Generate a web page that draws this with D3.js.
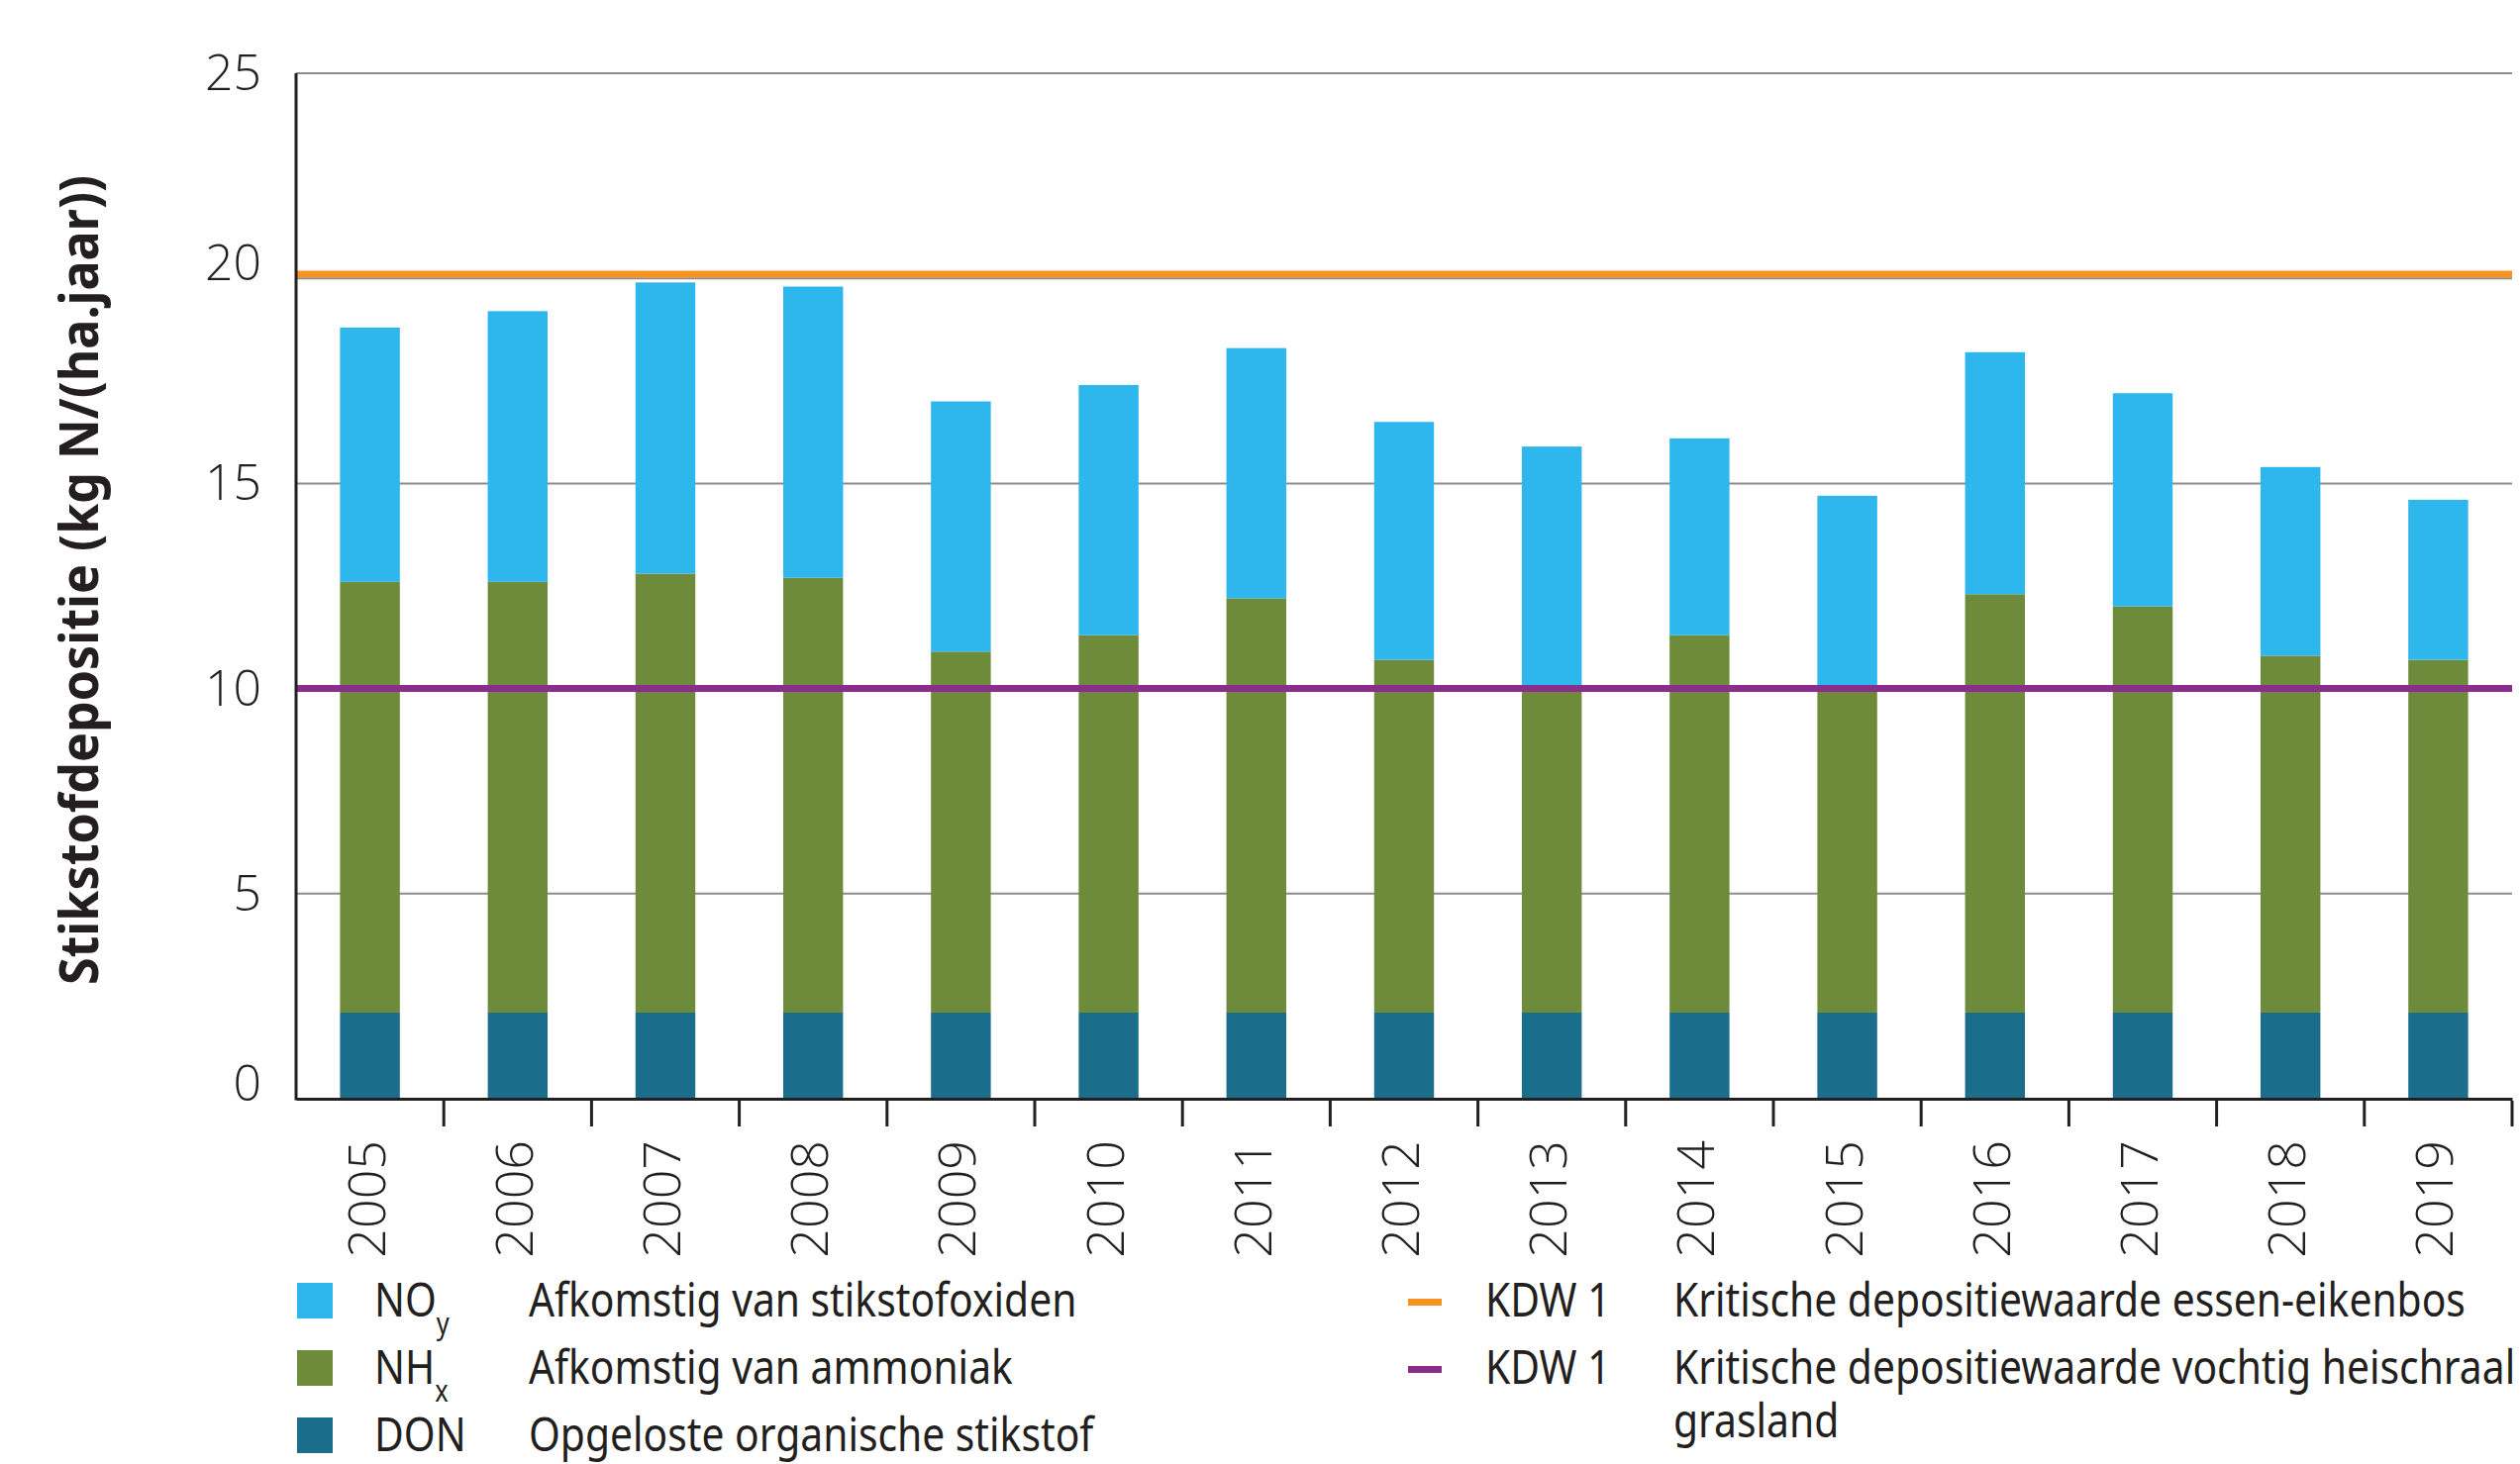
<!DOCTYPE html>
<html>
<head>
<meta charset="utf-8">
<script src="https://cdn.jsdelivr.net/npm/d3@7"></script>
<style>
  body { margin: 0; background: #fff; }
  text { fill: #231f20; }
  .narrow { font-family: "Noto Sans", "Open Sans", sans-serif; }
  .round { font-family: "Open Sans", "Noto Sans", sans-serif; font-weight: 300; }
</style>
</head>
<body>
<div id="chart"></div>
<script>
var years = ['2005', '2006', '2007', '2008', '2009', '2010', '2011', '2012', '2013', '2014', '2015', '2016', '2017', '2018', '2019'];
var donValues = [2.1, 2.1, 2.1, 2.1, 2.1, 2.1, 2.1, 2.1, 2.1, 2.1, 2.1, 2.1, 2.1, 2.1, 2.1];
var nhxValues = [10.5, 10.5, 10.7, 10.6, 8.8, 9.2, 10.1, 8.6, 7.9, 9.2, 7.9, 10.2, 9.9, 8.7, 8.6];
var noyValues = [6.2, 6.6, 7.1, 7.1, 6.1, 6.1, 6.1, 5.8, 5.9, 4.8, 4.7, 5.9, 5.2, 4.6, 3.9];
var yTicks = [0, 5, 10, 15, 20, 25];
var kdwLines = [
  { key: 'essen', value: 20.1, color: '#f7931e' },
  { key: 'heischraal', value: 10, color: '#8b2d8c' }
];
var seriesKeys = ['don', 'nhx', 'noy'];
var seriesColors = { noy: '#2db7ec', nhx: '#6d8b3a', don: '#1b6e8b' };

var W = 2545, H = 1479;
var margin = { left: 299, right: 8, top: 74, bottom: 369 };
var condense = 0.85; // legend font in the original is a narrow face

var svg = d3.select('#chart').append('svg')
  .attr('width', W)
  .attr('height', H);

var x = d3.scaleBand()
  .domain(years)
  .range([margin.left, W - margin.right])
  .padding(0);

var y = d3.scaleLinear()
  .domain([0, 25])
  .range([H - margin.bottom, margin.top]);

var rows = years.map(function(yr, i) {
  return { year: yr, don: donValues[i], nhx: nhxValues[i], noy: noyValues[i] };
});
var stacked = d3.stack().keys(seriesKeys)(rows);

// gridlines
svg.append('g')
  .selectAll('line')
  .data(yTicks.filter(function(d) { return d > 0; }))
  .join('line')
  .attr('x1', margin.left)
  .attr('x2', W - margin.right)
  .attr('y1', function(d) { return y(d); })
  .attr('y2', function(d) { return y(d); })
  .attr('stroke', '#8c8c8c')
  .attr('stroke-width', 2);

// y tick labels (0 and 20 sit a little higher in the original)
svg.append('g')
  .selectAll('text')
  .data(yTicks)
  .join('text')
  .attr('class', 'round')
  .attr('x', 264)
  .attr('y', function(d) { return y(d) + 17 - ((d === 0 || d === 20) ? 15 : 0); })
  .attr('text-anchor', 'end')
  .attr('font-size', 50)
  .text(function(d) { return d; });

// bars
var barW = x.bandwidth() * 0.405;
svg.append('g')
  .selectAll('g')
  .data(stacked)
  .join('g')
  .attr('fill', function(s) { return seriesColors[s.key]; })
  .selectAll('rect')
  .data(function(s) { return s; })
  .join('rect')
  .attr('x', function(d) { return x(d.data.year) + (x.bandwidth() - barW) / 2; })
  .attr('width', barW)
  .attr('y', function(d) { return y(d[1]); })
  .attr('height', function(d) { return y(d[0]) - y(d[1]); });

// critical deposition lines
svg.append('g')
  .selectAll('line')
  .data(kdwLines)
  .join('line')
  .attr('x1', margin.left)
  .attr('x2', W - margin.right)
  .attr('y1', function(d) { return y(d.value); })
  .attr('y2', function(d) { return y(d.value); })
  .attr('stroke', function(d) { return d.color; })
  .attr('stroke-width', 7);

// axes
var xAxis = d3.axisBottom(x).tickSize(0).tickFormat('');
var xg = svg.append('g')
  .attr('transform', 'translate(0,' + y(0) + ')')
  .call(xAxis);
xg.select('.domain').attr('stroke', '#231f20').attr('stroke-width', 3);

svg.append('g')
  .selectAll('line')
  .data(years)
  .join('line')
  .attr('x1', function(d) { return x(d) + x.bandwidth(); })
  .attr('x2', function(d) { return x(d) + x.bandwidth(); })
  .attr('y1', y(0) + 2)
  .attr('y2', y(0) + 28)
  .attr('stroke', '#231f20')
  .attr('stroke-width', 3);

svg.append('line')
  .attr('x1', margin.left)
  .attr('x2', margin.left)
  .attr('y1', y(25))
  .attr('y2', y(0) + 1.5)
  .attr('stroke', '#231f20')
  .attr('stroke-width', 3);

// year labels
svg.append('g')
  .selectAll('text')
  .data(years)
  .join('text')
  .attr('class', 'round')
  .attr('font-size', 52)
  .attr('text-anchor', 'end')
  .attr('transform', function(d) {
    return 'translate(' + (x(d) + x.bandwidth() / 2 + 15) + ',' + (y(0) + 42) + ') rotate(-90)';
  })
  .text(function(d) { return d; });

// y axis title
svg.append('text')
  .attr('class', 'narrow')
  .attr('font-weight', 'bold')
  .attr('font-size', 54)
  .attr('text-anchor', 'middle')
  .attr('transform', 'translate(99,586) rotate(-90) scale(0.93,1)')
  .text('Stikstofdepositie (kg N/(ha.jaar))');

function condensedText(sel, tx) {
  return sel.append('text')
    .attr('class', 'narrow')
    .attr('font-size', 48)
    .attr('transform', 'translate(' + tx + ',-2) scale(' + condense + ',1)');
}

// legend: components
var compLegend = [
  { key: 'noy', sym: 'NO', sub: 'y', desc: 'Afkomstig van stikstofoxiden' },
  { key: 'nhx', sym: 'NH', sub: 'x', desc: 'Afkomstig van ammoniak' },
  { key: 'don', sym: 'DON', sub: '', desc: 'Opgeloste organische stikstof' }
];
var li = svg.append('g')
  .selectAll('g')
  .data(compLegend)
  .join('g')
  .attr('transform', function(d, i) { return 'translate(0,' + (1332 + i * 68) + ')'; });
li.append('rect')
  .attr('x', 300)
  .attr('y', -36)
  .attr('width', 36)
  .attr('height', 36)
  .attr('fill', function(d) { return seriesColors[d.key]; });
var sym = condensedText(li, 378);
sym.append('tspan').text(function(d) { return d.sym; });
sym.append('tspan')
  .attr('font-size', 30)
  .attr('dy', 18)
  .text(function(d) { return d.sub; });
condensedText(li, 534).text(function(d) { return d.desc; });

// legend: critical lines
var kdwLegend = [
  { color: '#f7931e', sym: 'KDW 1', desc: ['Kritische depositiewaarde essen-eikenbos'] },
  { color: '#8b2d8c', sym: 'KDW 1', desc: ['Kritische depositiewaarde vochtig heischraal', 'grasland'] }
];
var ki = svg.append('g')
  .selectAll('g')
  .data(kdwLegend)
  .join('g')
  .attr('transform', function(d, i) { return 'translate(0,' + (1332 + i * 68) + ')'; });
ki.append('rect')
  .attr('x', 1422)
  .attr('y', -20)
  .attr('width', 34)
  .attr('height', 7)
  .attr('fill', function(d) { return d.color; });
condensedText(ki, 1500).text(function(d) { return d.sym; });
condensedText(ki, 1690)
  .selectAll('tspan')
  .data(function(d) { return d.desc; })
  .join('tspan')
  .attr('x', 0)
  .attr('dy', function(d, i) { return i === 0 ? 0 : 54; })
  .text(function(d) { return d; });
</script>
</body>
</html>
